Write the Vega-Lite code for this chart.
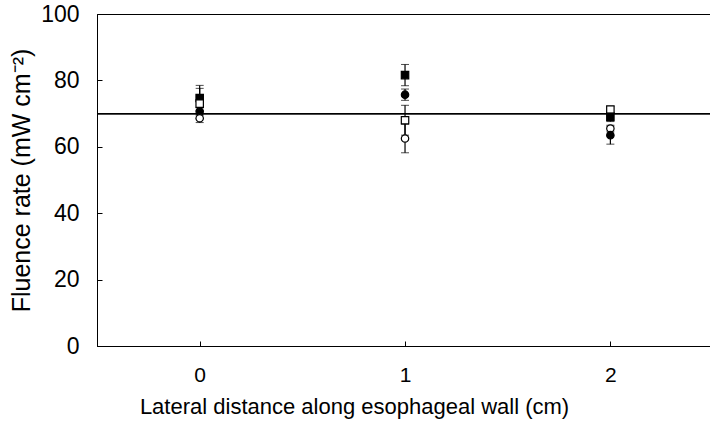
{
  "$schema": "https://vega.github.io/schema/vega-lite/v6.json",
  "autosize": "none",
  "width": 614,
  "height": 332,
  "padding": {"left": 97, "top": 14, "right": 0, "bottom": 76},
  "background": "white",
  "config": {
    "view": {"stroke": "black", "strokeWidth": 1},
    "font": "Liberation Sans",
    "axis": {"grid": false, "domainColor": "black", "tickColor": "black", "labelColor": "black", "titleColor": "black", "titleFontWeight": "normal", "labelFont": "Liberation Sans", "titleFont": "Liberation Sans"}
  },
  "data": {"values": [
    {"x": 0, "series": "filled square", "mean": 74.7, "lo": 71, "hi": 78.5},
    {"x": 0, "series": "open square", "mean": 73, "lo": 68.5, "hi": 77.6},
    {"x": 0, "series": "filled circle", "mean": 70.6, "lo": 69.5, "hi": 71.7},
    {"x": 0, "series": "open circle", "mean": 68.6, "lo": 67.3, "hi": 69.9},
    {"x": 1, "series": "filled square", "mean": 81.6, "lo": 78.4, "hi": 84.8},
    {"x": 1, "series": "filled circle", "mean": 75.7, "lo": 74, "hi": 77.4},
    {"x": 1, "series": "open square", "mean": 68, "lo": 63.5, "hi": 72.5},
    {"x": 1, "series": "open circle", "mean": 62.5, "lo": 58.2, "hi": 66.8},
    {"x": 2, "series": "open square", "mean": 71.2, "lo": 70.2, "hi": 72.2},
    {"x": 2, "series": "filled square", "mean": 69, "lo": 67.6, "hi": 70.4},
    {"x": 2, "series": "open circle", "mean": 65.5, "lo": 64.5, "hi": 66.5},
    {"x": 2, "series": "filled circle", "mean": 63.5, "lo": 60.8, "hi": 66.2}
  ]},
  "encoding": {
    "x": {"field": "x", "type": "quantitative", "scale": {"domain": [-0.5, 2.49], "nice": false, "zero": false},
      "axis": {"values": [0, 1, 2], "format": "d", "tickSize": -5, "labelPadding": 23, "labelFontSize": 21, "titleFontSize": 22, "title": "Lateral distance along esophageal wall (cm)", "titlePadding": 11, "titleX": 257, "titleAlign": "center"}}
  },
  "layer": [
    {
      "mark": {"type": "rule", "color": "black", "strokeWidth": 1},
      "encoding": {"x": null, "y": {"datum": 70, "type": "quantitative"}}
    },
    {
      "mark": {"type": "errorbar", "ticks": {"size": 8, "color": "black", "strokeWidth": 1.2}, "rule": {"color": "black", "strokeWidth": 1.2}},
      "encoding": {
        "y": {"field": "lo", "type": "quantitative", "scale": {"domain": [0, 100], "nice": false},
          "axis": {"values": [0, 20, 40, 60, 80, 100], "tickSize": -5, "labelPadding": 23, "labelFontSize": 23, "titleFontSize": 25, "title": "Fluence rate (mW cm⁻²)", "titlePadding": 6}},
        "y2": {"field": "hi"}
      }
    },
    {
      "mark": {"type": "point", "stroke": "black", "strokeWidth": 1.2, "opacity": 1, "filled": false},
      "encoding": {
        "y": {"field": "mean", "type": "quantitative"},
        "shape": {"field": "series", "type": "nominal", "scale": {"domain": ["filled square", "open square", "filled circle", "open circle"], "range": ["square", "square", "circle", "circle"]}, "legend": null},
        "fill": {"field": "series", "type": "nominal", "scale": {"domain": ["filled square", "open square", "filled circle", "open circle"], "range": ["black", "white", "black", "white"]}, "legend": null},
        "size": {"field": "series", "type": "nominal", "scale": {"domain": ["filled square", "open square", "filled circle", "open circle"], "range": [55, 55, 45, 45]}, "legend": null}
      }
    }
  ]
}
